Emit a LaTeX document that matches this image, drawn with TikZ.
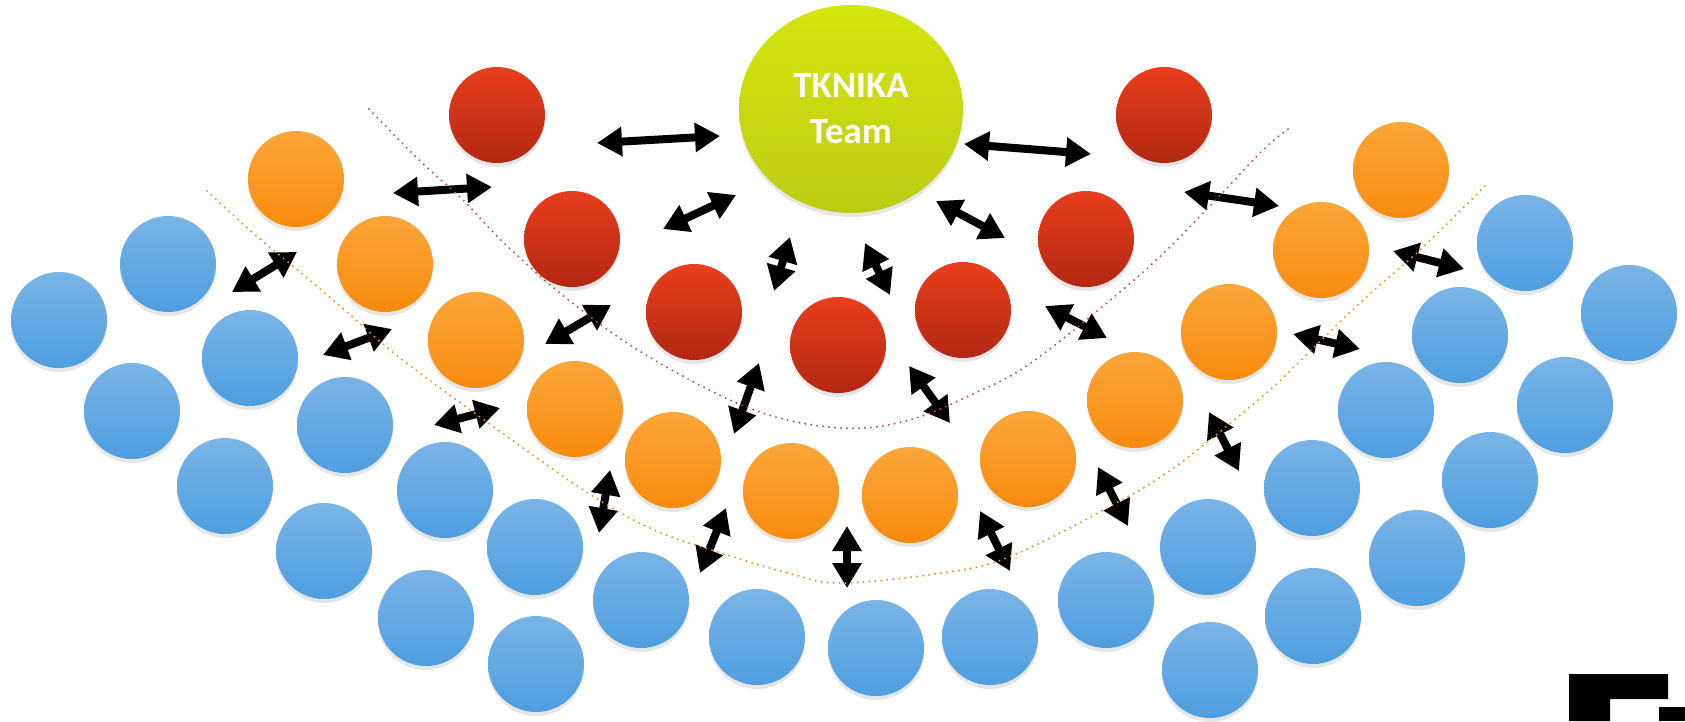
\documentclass[tikz,border=0pt]{standalone}
\usepackage{fontspec}
\setmainfont{Carlito}
\usepackage{tikz}
\usetikzlibrary{arrows.meta, shapes.geometric, shadows}
\usepackage{xcolor}

\definecolor{bluetop}{HTML}{7AB4E6}
\definecolor{bluebot}{HTML}{4E9EE0}
\definecolor{orangetop}{HTML}{FCA63A}
\definecolor{orangebot}{HTML}{F88B0E}
\definecolor{redtop}{HTML}{E83E1E}
\definecolor{redbot}{HTML}{B22812}
\definecolor{greentop}{HTML}{D4E60E}
\definecolor{greenbot}{HTML}{BCCC14}
\definecolor{reddots}{HTML}{C0504D}
\definecolor{orangedots}{HTML}{F7901E}

\begin{document}
\begin{tikzpicture}[x=1pt, y=-1pt, >={Triangle[length=25pt, width=28pt]}]
    \tikzstyle{ball} = [circle, minimum size=96pt, inner sep=0pt, drop shadow={opacity=0.2, shadow xshift=0pt, shadow yshift=-4pt}]
    \tikzstyle{pupil} = [ball, top color=bluetop, bottom color=bluebot]
    \tikzstyle{teacher} = [ball, top color=orangetop, bottom color=orangebot]
    \tikzstyle{mentor} = [ball, top color=redtop, bottom color=redbot]
    \tikzstyle{link} = [<->, line width=8pt, black]
    \tikzstyle{ring} = [line width=2.2pt, line cap=round, dash pattern=on 0pt off 6pt]

    \useasboundingbox (0,0) rectangle (1685,721);

    % centre
    \node [ellipse, minimum width=224pt, minimum height=208pt, inner sep=0pt, top color=greentop, bottom color=greenbot, text=white, align=center, font=\bfseries\fontsize{37}{46}\selectfont, drop shadow={opacity=0.2, shadow xshift=0pt, shadow yshift=-4pt}] (team) at (851,109) {TKNIKA\\Team};

    % red
    \node [mentor] (r1) at (497,115) {};
    \node [mentor] (r2) at (1164,115) {};
    \node [mentor] (r3) at (572,239) {};
    \node [mentor] (r4) at (1086,239) {};
    \node [mentor] (r5) at (694,312) {};
    \node [mentor] (r6) at (963,310) {};
    \node [mentor] (r7) at (838,345) {};

    % orange
    \node [teacher] (o1) at (296,179) {};
    \node [teacher] (o2) at (1401,170) {};
    \node [teacher] (o3) at (385,264) {};
    \node [teacher] (o4) at (1321,250) {};
    \node [teacher] (o5) at (476,340) {};
    \node [teacher] (o6) at (1229,332) {};
    \node [teacher] (o7) at (575,409) {};
    \node [teacher] (o8) at (1135,400) {};
    \node [teacher] (o9) at (673,460) {};
    \node [teacher] (o10) at (1028,459) {};
    \node [teacher] (o11) at (791,491) {};
    \node [teacher] (o12) at (910,495) {};

    % blue
    \node [pupil] (b1) at (59,320) {};
    \node [pupil] (b2) at (168,264) {};
    \node [pupil] (b3) at (250,358) {};
    \node [pupil] (b4) at (132,411) {};
    \node [pupil] (b5) at (345,425) {};
    \node [pupil] (b6) at (225,486) {};
    \node [pupil] (b7) at (445,490) {};
    \node [pupil] (b8) at (324,551) {};
    \node [pupil] (b9) at (535,547) {};
    \node [pupil] (b10) at (426,618) {};
    \node [pupil] (b11) at (641,600) {};
    \node [pupil] (b12) at (536,664) {};
    \node [pupil] (b13) at (757,637) {};
    \node [pupil] (b14) at (876,648) {};
    \node [pupil] (b15) at (990,637) {};
    \node [pupil] (b16) at (1106,600) {};
    \node [pupil] (b17) at (1210,670) {};
    \node [pupil] (b18) at (1208,547) {};
    \node [pupil] (b19) at (1313,616) {};
    \node [pupil] (b20) at (1312,488) {};
    \node [pupil] (b21) at (1417,558) {};
    \node [pupil] (b22) at (1386,410) {};
    \node [pupil] (b23) at (1490,480) {};
    \node [pupil] (b24) at (1460,335) {};
    \node [pupil] (b25) at (1565,405) {};
    \node [pupil] (b26) at (1525,243) {};
    \node [pupil] (b27) at (1629,313) {};

    % arrow ends
    \coordinate (a1s) at (597,143);   \coordinate (a1e) at (720,136);
    \coordinate (a2s) at (964,144);   \coordinate (a2e) at (1091,154);
    \coordinate (a3s) at (393,193);   \coordinate (a3e) at (492,187);
    \coordinate (a4s) at (663,229);   \coordinate (a4e) at (736,195);
    \coordinate (a5s) at (936,201);   \coordinate (a5e) at (1005,238);
    \coordinate (a6s) at (1184,192);  \coordinate (a6e) at (1279,206);
    \coordinate (a7s) at (232,292);   \coordinate (a7e) at (297,252);
    \coordinate (a8s) at (790,237);   \coordinate (a8e) at (774,291);
    \coordinate (a9s) at (865,243);   \coordinate (a9e) at (890,295);
    \coordinate (a10s) at (1393,251); \coordinate (a10e) at (1464,269);
    \coordinate (a11s) at (323,355);  \coordinate (a11e) at (392,329);
    \coordinate (a12s) at (545,344);  \coordinate (a12e) at (611,305);
    \coordinate (a13s) at (1045,306); \coordinate (a13e) at (1107,338);
    \coordinate (a14s) at (1293,334); \coordinate (a14e) at (1360,349);
    \coordinate (a15s) at (434,425);  \coordinate (a15e) at (500,408);
    \coordinate (a16s) at (759,363);  \coordinate (a16e) at (734,434);
    \coordinate (a17s) at (909,366);  \coordinate (a17e) at (950,423);
    \coordinate (a18s) at (1209,412); \coordinate (a18e) at (1239,471);
    \coordinate (a19s) at (610,470);  \coordinate (a19e) at (599,533);
    \coordinate (a20s) at (726,508);  \coordinate (a20e) at (700,573);
    \coordinate (a21s) at (1098,467); \coordinate (a21e) at (1128,526);
    \coordinate (a22s) at (847,526);  \coordinate (a22e) at (847,588);
    \coordinate (a23s) at (980,511);  \coordinate (a23e) at (1010,571);

    \draw [link] (a1s) -- (a1e);
    \draw [link] (a2s) -- (a2e);
    \draw [link] (a3s) -- (a3e);
    \draw [link] (a4s) -- (a4e);
    \draw [link] (a5s) -- (a5e);
    \draw [link] (a6s) -- (a6e);
    \draw [link] (a7s) -- (a7e);
    \draw [link] (a8s) -- (a8e);
    \draw [link] (a9s) -- (a9e);
    \draw [link] (a10s) -- (a10e);
    \draw [link] (a11s) -- (a11e);
    \draw [link] (a12s) -- (a12e);
    \draw [link] (a13s) -- (a13e);
    \draw [link] (a14s) -- (a14e);
    \draw [link] (a15s) -- (a15e);
    \draw [link] (a16s) -- (a16e);
    \draw [link] (a17s) -- (a17e);
    \draw [link] (a18s) -- (a18e);
    \draw [link] (a19s) -- (a19e);
    \draw [link] (a20s) -- (a20e);
    \draw [link] (a21s) -- (a21e);
    \draw [link] (a22s) -- (a22e);
    \draw [link] (a23s) -- (a23e);

    % dotted rings
    \draw [ring, reddots] plot [smooth, tension=0.6] coordinates {(369,109) (418,159) (463,200) (504,243) (571,302) (651,358) (754,410) (841,428) (909,420) (975,393) (1035,360) (1142,273) (1209,207) (1263,150) (1291,127)};
    \draw [ring, orangedots] plot [smooth, tension=0.6] coordinates {(207,191) (253,233) (300,272) (347,312) (400,358) (498,430) (588,493) (654,530) (721,553) (788,573) (841,583) (942,573) (1009,557) (1109,507) (1175,467) (1264,395) (1301,360) (1363,300) (1420,250) (1485,186)};

    % corner mark
    \fill [black] (1569,674) -- (1668,674) -- (1668,699) -- (1610,699) -- (1610,721) -- (1569,721) -- cycle;
    \fill [black] (1659,707) rectangle (1685,721);
\end{tikzpicture}
\end{document}
